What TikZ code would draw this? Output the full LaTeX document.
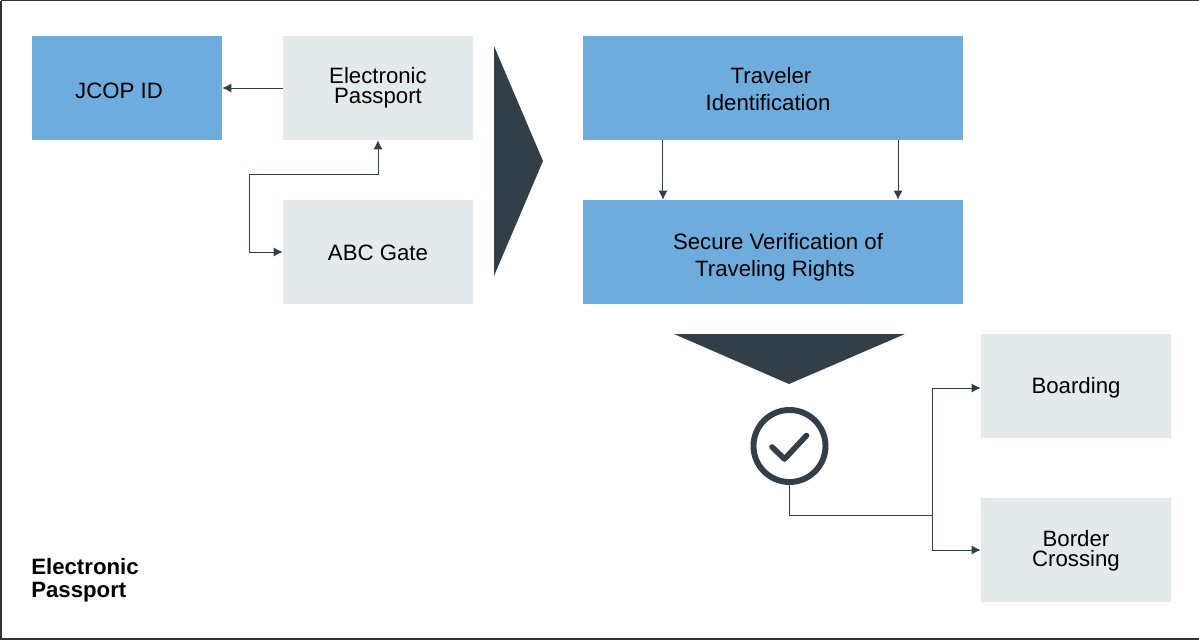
\documentclass[tikz,border=0pt]{standalone}
\usepackage{fontspec}
\setmainfont{Liberation Sans}
\usetikzlibrary{calc}
\usetikzlibrary{arrows.meta}
\definecolor{boxblue}{HTML}{6FACDE}
\definecolor{boxgray}{HTML}{E4E9EC}
\definecolor{slate}{HTML}{323E48}
\tikzset{
	box/.style={minimum width=4.75cm,minimum height=2.6cm,inner sep=0pt,align=center,font=\fontsize{15.8}{14.2}\selectfont},
	bluebox/.style={box,fill=boxblue},
	graybox/.style={box,fill=boxgray},
	widebox/.style={bluebox,minimum width=9.5cm,font=\fontsize{15.8}{19.1}\selectfont},
	conn/.style={slate,line width=0.7pt,-{Latex[length=6.5pt,width=6.5pt]}},
	conntwo/.style={conn,{Latex[length=6.5pt,width=6.5pt]}-{Latex[length=6.5pt,width=6.5pt]}},
}
\begin{document}
\begin{tikzpicture}[x=0.025cm,y=-0.025cm]
		\useasboundingbox (0,0) rectangle (1199,641);
		% frame
		\draw[black!80,line width=0.8pt] (1,0.5) -- (1,639) -- (1199,639);
		\draw[black!80,line width=0.8pt] (1,0.5) -- (1199,0.5);
		% left group
		\node[bluebox,text height=0.5cm,text depth=0pt] (jcop) at (127,88) {JCOP ID\kern0.4cm};
		\node[graybox] (passport) at (378,88) {Electronic\\Passport};
		\node[graybox,text height=0.445cm,text depth=0pt] (gate) at (378,252) {ABC Gate};
		\draw[conn] (passport) -- (jcop);
		\draw[conntwo] (passport.south) |- (249,174) |- (gate.west);
		% big triangles
		\fill[slate] (494,46) -- (543,161) -- (494,276) -- cycle;
		\fill[slate] (674,334) -- (905,334) -- (789,384) -- cycle;
		% verification
		\node[widebox] (traveler) at (773,88) {\rule{0pt}{0.45cm}Traveler\kern0.1cm\\Identification\kern0.25cm};
		\node[widebox] (secure) at (773,252) {\rule{0pt}{0.65cm}\kern0.25cm Secure Verification of\\\kern0.1cm Traveling Rights};
		\draw[conn] ([xshift=-2.75cm]traveler.south) -- ([xshift=-2.75cm]secure.north);
		\draw[conn] ([xshift=3.125cm]traveler.south) -- ([xshift=3.125cm]secure.north);
		% result
		\node[circle,draw=slate,line width=4.2pt,minimum size=1.8cm,inner sep=0pt] (check) at (789.5,446) {};
		\draw[slate,line width=4pt,line cap=round,line join=round] (772,447) -- (784.5,459) -- (806.5,435.5);
		\node[graybox,text height=0.48cm,text depth=0.117cm] (boarding) at (1076,386) {Boarding};
		\node[graybox] (border) at (1076,550) {\rule{0pt}{0.45cm}Border\\Crossing};
		\coordinate (fork) at (932,515.5);
		\draw[slate,line width=0.7pt] (check.south) |- (fork);
		\draw[conn] (fork) |- ([yshift=-0.05cm]boarding.west);
		\draw[conn] (fork) |- (border.west);
		% caption
		\node[anchor=north west,inner sep=0pt,align=left,font=\fontsize{15.8}{16.3}\selectfont\bfseries] (caption) at (31,558) {Electronic\\Passport};
	\end{tikzpicture}
\end{document}
